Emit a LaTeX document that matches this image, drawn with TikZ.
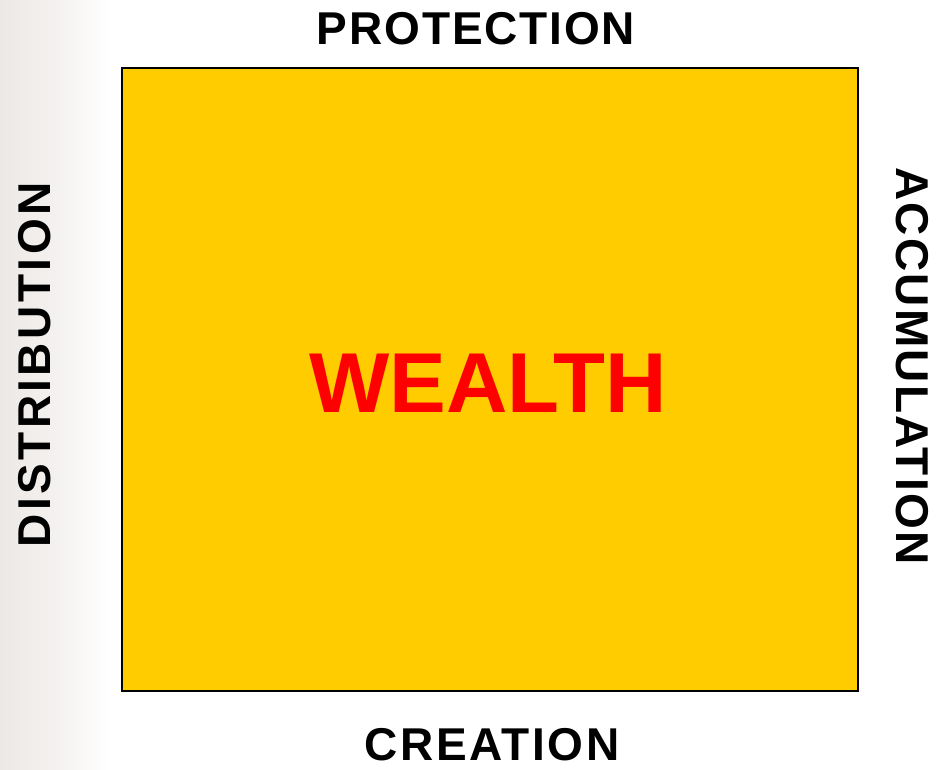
\documentclass[tikz,border=0pt]{standalone}
\usepackage{fontspec}
\setmainfont{Liberation Sans}
\definecolor{gold}{HTML}{FFCC00}
\definecolor{marble}{HTML}{ECE8E5}
\tikzset{
  side/.style={font=\fontsize{46}{50}\selectfont\bfseries, text=black, inner sep=0pt, anchor=center},
}
\begin{document}
\begin{tikzpicture}[x=1pt,y=-1pt]
\useasboundingbox (0,0) rectangle (936,769);
\fill[white] (0,0) rectangle (936,769);
\shade[left color=marble, right color=white, middle color=marble!60] (0,0) rectangle (110,769);
\node[draw=black, line width=2pt, fill=gold, minimum width=736pt, minimum height=623pt, inner sep=0pt] (box) at (490,379.5) {};
\node[font=\fontsize{85}{90}\selectfont\bfseries, text=red, inner sep=0pt] (wealth) at (488,383) {WEALTH};
\node[side] (prot) at (476,29) {\addfontfeature{LetterSpace=4}PROTECTION};
\node[side] (crea) at (492,745) {\addfontfeature{LetterSpace=5.5}CREATION};
\node[side, rotate=90] (dist) at (35,365) {\addfontfeature{LetterSpace=7.5}DISTRIBUTION};
\node[side, rotate=-90] (accu) at (912,366) {\addfontfeature{LetterSpace=5}ACCUMULATION};
\end{tikzpicture}
\end{document}
